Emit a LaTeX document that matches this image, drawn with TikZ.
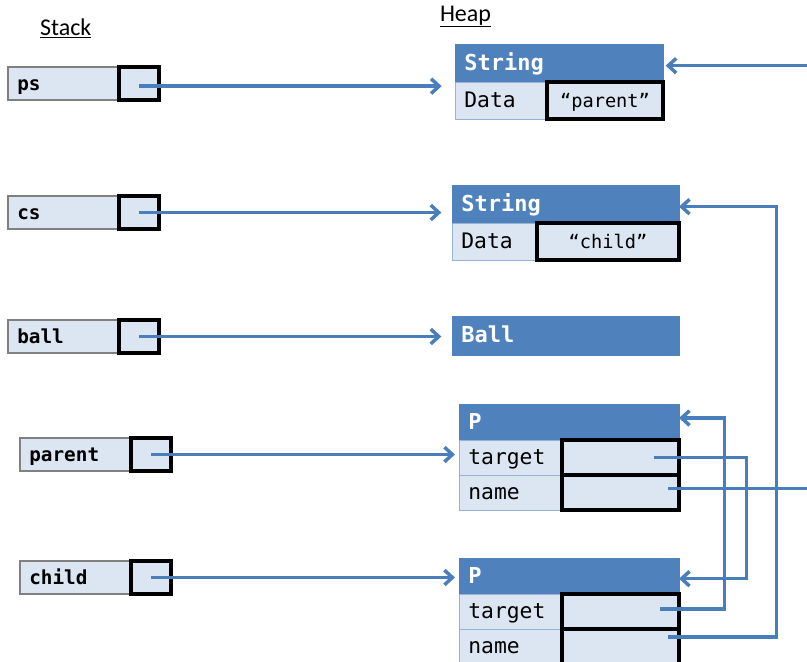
\documentclass[tikz,border=0pt]{standalone}
\usepackage{fontspec}
\setmainfont{Carlito}
\newfontfamily\monofont{DejaVu Sans Mono}
\usetikzlibrary{positioning,arrows.meta}
\definecolor{hdblue}{HTML}{4F81BD}
\definecolor{cellfill}{HTML}{DCE6F2}
\definecolor{linkblue}{HTML}{4A7EBB}

\begin{document}
\begin{tikzpicture}[x=0.75pt, y=-0.75pt,
    every node/.style={inner xsep=7pt, inner ysep=0pt, outer sep=0pt,
      anchor=north west, align=left, text height=11.5pt, text depth=0.5pt},
    var/.style={draw=gray, line width=0.9pt, fill=cellfill,
      minimum height=24.75pt, text width=69.25pt,
      font=\monofont\bfseries\fontsize{14.5}{16}\selectfont},
    ptr/.style={draw=black, line width=2.8pt, fill=cellfill,
      minimum width=30pt, minimum height=24.75pt, inner sep=0pt},
    hd/.style={draw=hdblue, line width=0.6pt, fill=hdblue, text=white,
      text width=#1, font=\monofont\bfseries\fontsize{16.5}{18}\selectfont},
    fld/.style={draw=hdblue!60, line width=0.7pt, fill=cellfill,
      text width=#1, font=\monofont\fontsize{16}{18}\selectfont},
    val/.style={draw=black, line width=2.8pt, fill=cellfill,
      minimum width=#1, inner sep=0pt, align=center,
      font=\monofont\fontsize{14}{16}\selectfont},
    link/.style={draw=linkblue, line width=2.6pt},
    tip/.style={-{Straight Barb[length=6pt, width=11pt]}}]

  \useasboundingbox (0,0) rectangle (807,661);

  % titles
  \node[anchor=base west, inner sep=0pt, font=\fontsize{18}{20}\selectfont] (stack) at (40,35) {\underline{Stack}};
  \node[anchor=base west, inner sep=0pt, font=\fontsize{18}{20}\selectfont] (heap) at (440,21) {\underline{Heap}};

  % stack
  \node[var] (ps) at (8,67) {ps};
  \node[ptr, right=0pt of ps] (psp) {};
  \node[var] (cs) at (8,196) {cs};
  \node[ptr, right=0pt of cs] (csp) {};
  \node[var] (ball) at (8,320) {ball};
  \node[ptr, right=0pt of ball] (ballp) {};
  \node[var] (parent) at (20,438) {parent};
  \node[ptr, right=0pt of parent] (parentp) {};
  \node[var] (child) at (20,561) {child};
  \node[ptr, right=0pt of child] (childp) {};

  % heap
  \node[hd=142pt, minimum height=28.5pt] (s1h) at (455,44) {String};
  \node[fld=55pt, minimum height=27.75pt] (s1d) at (s1h.south west) {Data};
  \node[val=87pt, minimum height=27.75pt] (s1v) at (s1d.north east) {“parent”};

  \node[hd=156.25pt, minimum height=28.5pt] (s2h) at (452,185) {String};
  \node[fld=49.75pt, minimum height=27.75pt] (s2d) at (s2h.south west) {Data};
  \node[val=106.5pt, minimum height=27.75pt] (s2v) at (s2d.north east) {“child”};

  \node[hd=156.25pt, minimum height=29.25pt] (ballh) at (452,316) {Ball};

  \foreach \p/\y in {p1/404, p2/558} {
    \node[hd=151pt, minimum height=27pt] (\p h) at (459,\y) {P};
    \node[fld=63.25pt, minimum height=26.25pt] (\p t) at (\p h.south west) {target};
    \node[val=87.75pt, minimum height=26.25pt] (\p tv) at (\p t.north east) {};
    \node[fld=63.25pt, minimum height=26.25pt] (\p n) at (\p t.south west) {name};
    \node[val=87.75pt, minimum height=26.25pt] (\p nv) at (\p n.north east) {};
  }

  % references
  \draw[link, tip, shorten >=10pt] ([yshift=-2pt]psp.center) -- ([yshift=-2pt]psp.center -| s1h.west);
  \draw[link, tip, shorten >=8pt] (csp.center) -- (csp.center -| s2h.west);
  \draw[link, tip, shorten >=8pt] (ballp.center) -- (ballp.center -| ballh.west);
  \draw[link, tip, shorten >=3pt] (parentp.center) -- (parentp.center -| p1t.west);
  \draw[link, tip, shorten >=3pt] (childp.center) -- (childp.center -| p2h.west);

  \coordinate (rim) at (807,0);
  \draw[link] ([xshift=-8pt, yshift=3pt]p1nv.east) -- ([yshift=3pt]p1nv.east -| rim);
  \draw[link, tip, shorten >=2pt] ([yshift=-2pt]s1h.east -| rim) -- ([yshift=-2pt]s1h.east);
  \draw[link, tip] ([xshift=-19pt]p1tv.east) -- ++(93,0) |- ([yshift=-2pt]p2h.east);
  \draw[link, tip] ([xshift=-14pt, yshift=2pt]p2tv.east) -- ++(64,0) |- ([yshift=3pt]p1h.east);
  \draw[link, tip] ([xshift=-8pt, yshift=7pt]p2nv.east) -- ++(108,0) |- ([yshift=-2pt]s2h.east);
\end{tikzpicture}
\end{document}
